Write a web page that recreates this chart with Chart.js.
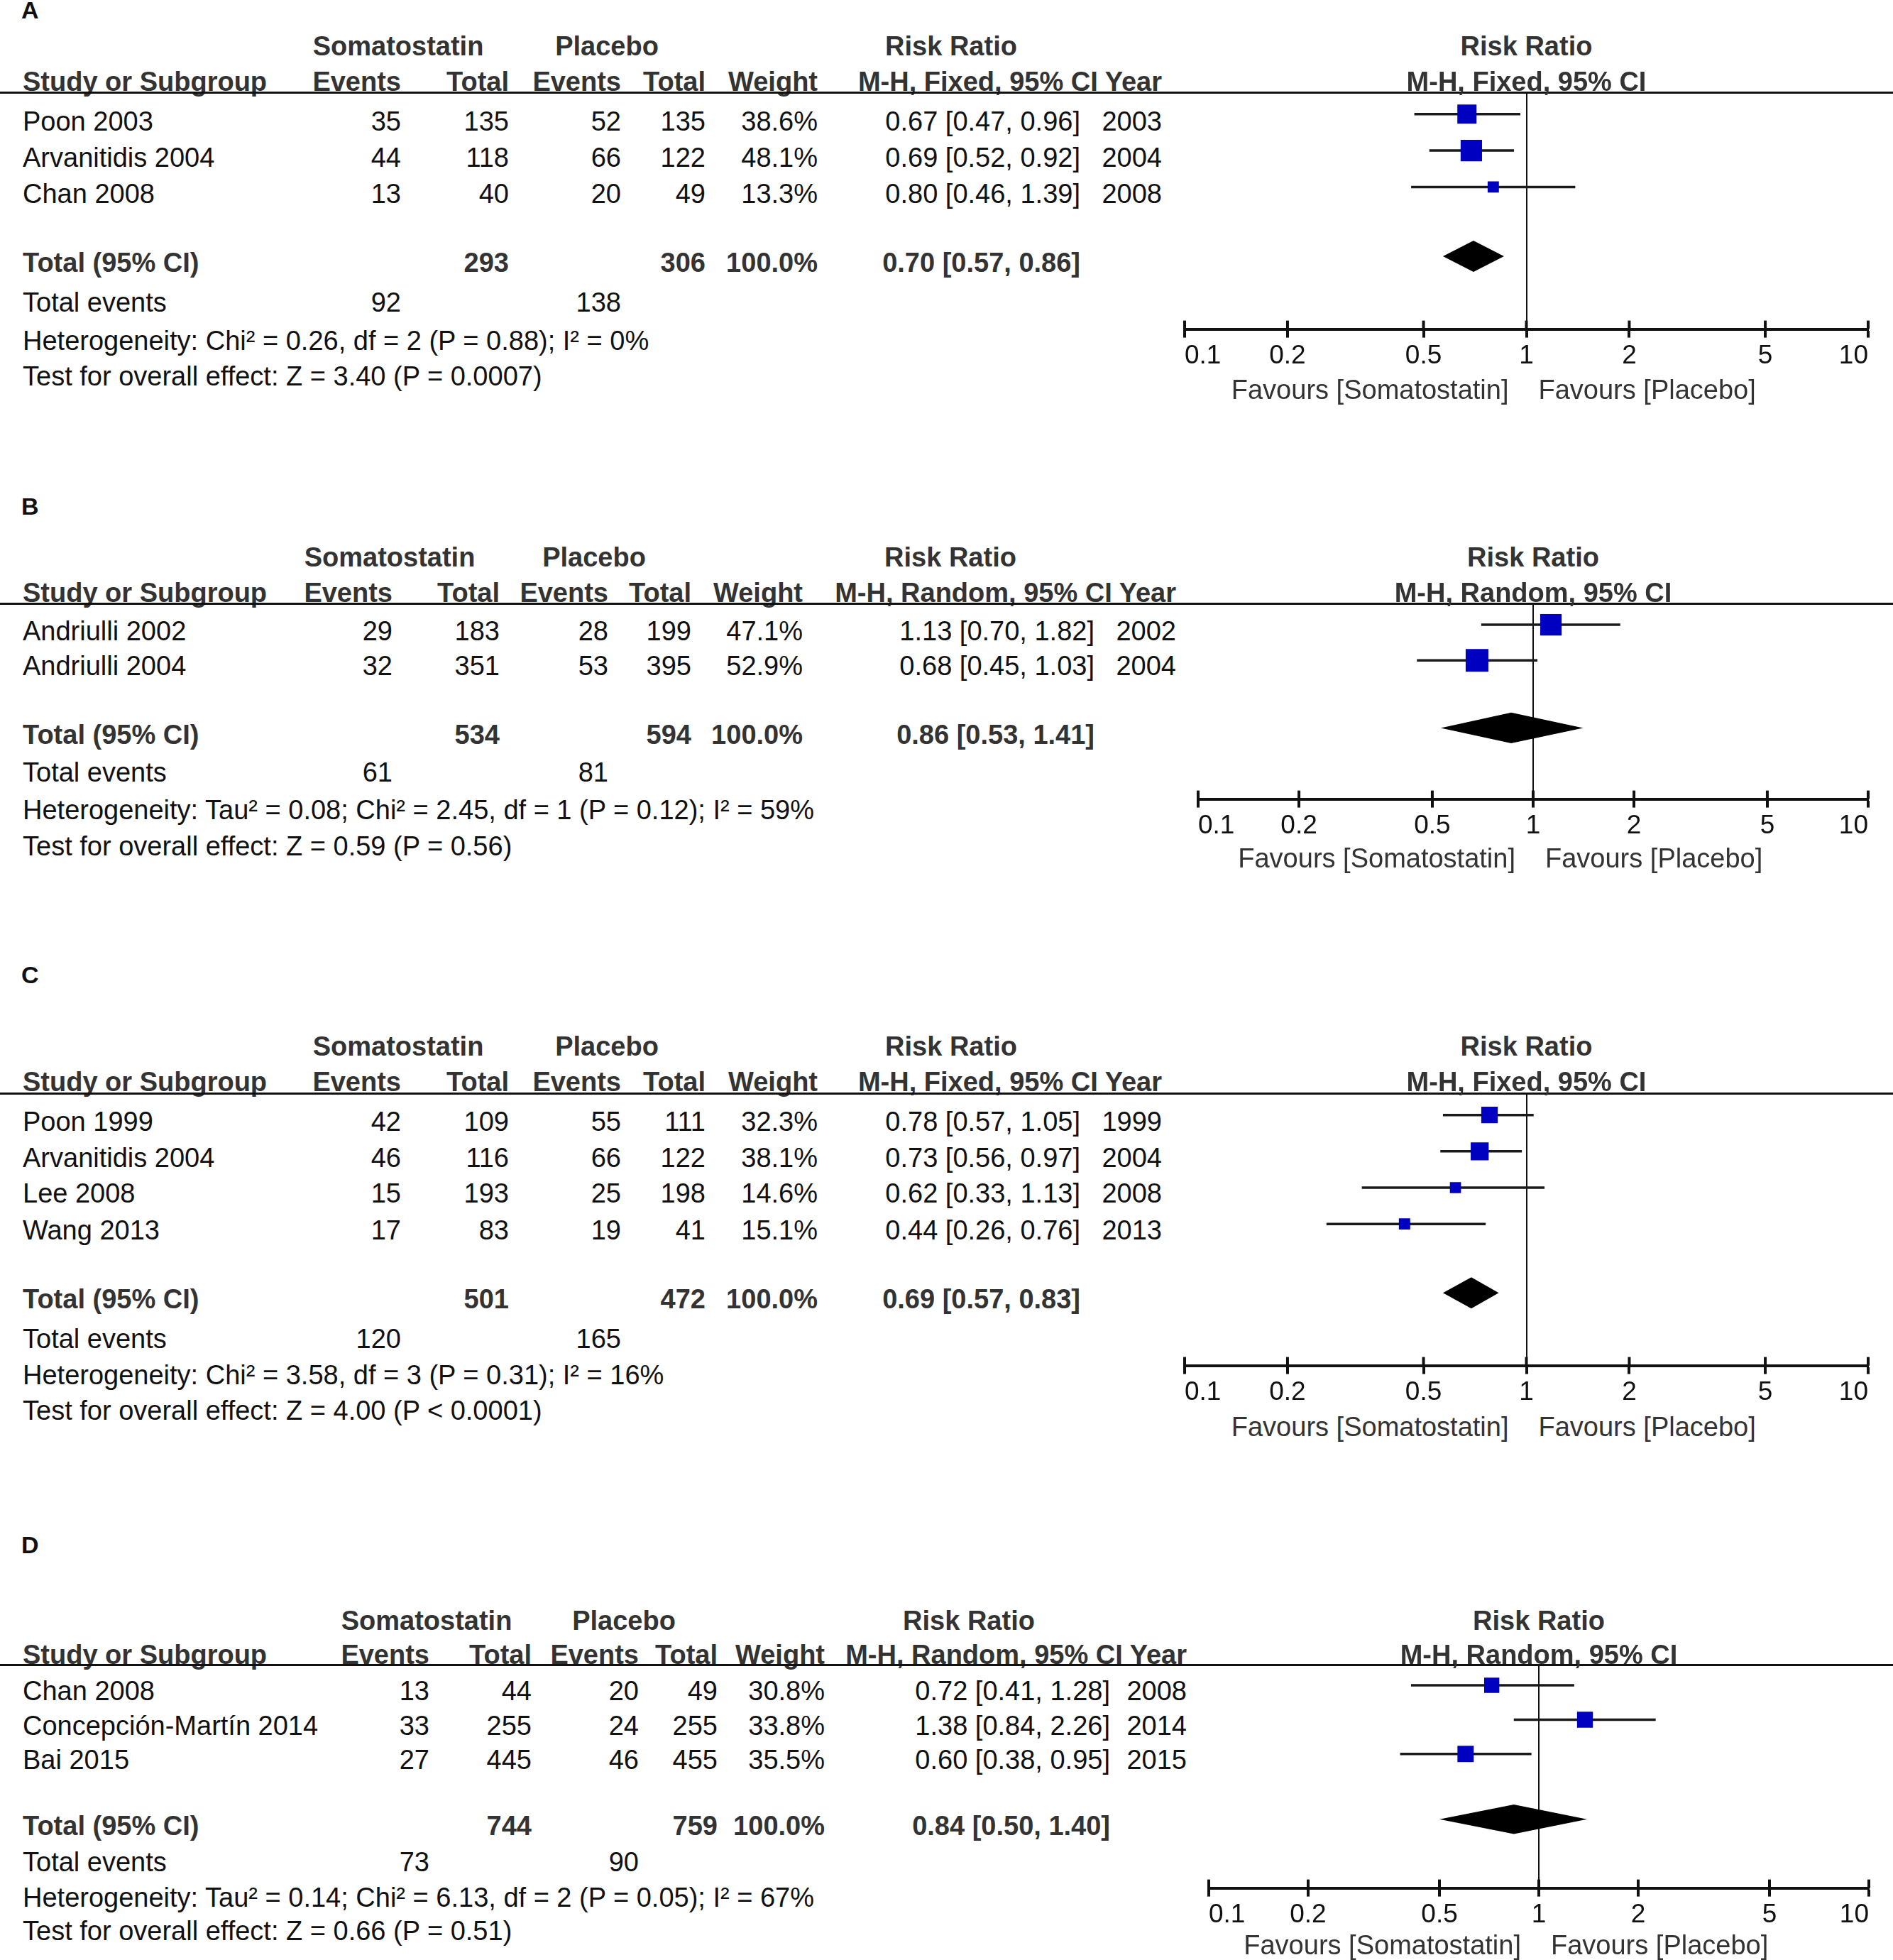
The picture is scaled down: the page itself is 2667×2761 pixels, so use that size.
<!DOCTYPE html>
<html>
<head>
<meta charset="utf-8">
<script src="https://cdn.jsdelivr.net/npm/chart.js@4.4.0/dist/chart.umd.min.js"></script>
<style>
  html, body { margin: 0; padding: 0; background: #fff; }
  #page { position: relative; width: 2667px; height: 2761px; overflow: hidden;
          font-family: "Liberation Sans", Arial, Helvetica, sans-serif; }
  .t { position: absolute; white-space: nowrap; font-size: 38px; line-height: 44px; height: 44px; color: #111; }
  .b { font-weight: bold; color: #333; }
  .rule { position: absolute; left: 0; width: 2667px; height: 3px; background: #111; }
  canvas { position: absolute; }
</style>
</head>
<body>
<div id="page"></div>
<script>
// ---- data ----
const studiesA = ["Poon 2003", "Arvanitidis 2004", "Chan 2008"];
const somaEventsA = [35, 44, 13];
const somaTotalA = [135, 118, 40];
const placEventsA = [52, 66, 20];
const placTotalA = [135, 122, 49];
const weightA = [38.6, 48.1, 13.3];
const rrA = [0.67, 0.69, 0.80];
const loA = [0.47, 0.52, 0.46];
const hiA = [0.96, 0.92, 1.39];
const yearA = [2003, 2004, 2008];
const pooledA = [0.70, 0.57, 0.86];
const totalsA = [293, 306];
const totalEventsA = [92, 138];
const hetA = "Heterogeneity: Chi² = 0.26, df = 2 (P = 0.88); I² = 0%";
const testA = "Test for overall effect: Z = 3.40 (P = 0.0007)";

const studiesB = ["Andriulli 2002", "Andriulli 2004"];
const somaEventsB = [29, 32];
const somaTotalB = [183, 351];
const placEventsB = [28, 53];
const placTotalB = [199, 395];
const weightB = [47.1, 52.9];
const rrB = [1.13, 0.68];
const loB = [0.70, 0.45];
const hiB = [1.82, 1.03];
const yearB = [2002, 2004];
const pooledB = [0.86, 0.53, 1.41];
const totalsB = [534, 594];
const totalEventsB = [61, 81];
const hetB = "Heterogeneity: Tau² = 0.08; Chi² = 2.45, df = 1 (P = 0.12); I² = 59%";
const testB = "Test for overall effect: Z = 0.59 (P = 0.56)";

const studiesC = ["Poon 1999", "Arvanitidis 2004", "Lee 2008", "Wang 2013"];
const somaEventsC = [42, 46, 15, 17];
const somaTotalC = [109, 116, 193, 83];
const placEventsC = [55, 66, 25, 19];
const placTotalC = [111, 122, 198, 41];
const weightC = [32.3, 38.1, 14.6, 15.1];
const rrC = [0.78, 0.73, 0.62, 0.44];
const loC = [0.57, 0.56, 0.33, 0.26];
const hiC = [1.05, 0.97, 1.13, 0.76];
const yearC = [1999, 2004, 2008, 2013];
const pooledC = [0.69, 0.57, 0.83];
const totalsC = [501, 472];
const totalEventsC = [120, 165];
const hetC = "Heterogeneity: Chi² = 3.58, df = 3 (P = 0.31); I² = 16%";
const testC = "Test for overall effect: Z = 4.00 (P < 0.0001)";

const studiesD = ["Chan 2008", "Concepción-Martín 2014", "Bai 2015"];
const somaEventsD = [13, 33, 27];
const somaTotalD = [44, 255, 445];
const placEventsD = [20, 24, 46];
const placTotalD = [49, 255, 455];
const weightD = [30.8, 33.8, 35.5];
const rrD = [0.72, 1.38, 0.60];
const loD = [0.41, 0.84, 0.38];
const hiD = [1.28, 2.26, 0.95];
const yearD = [2008, 2014, 2015];
const pooledD = [0.84, 0.50, 1.40];
const totalsD = [744, 759];
const totalEventsD = [73, 90];
const hetD = "Heterogeneity: Tau² = 0.14; Chi² = 6.13, df = 2 (P = 0.05); I² = 67%";
const testD = "Test for overall effect: Z = 0.66 (P = 0.51)";

const tickValues = [0.1, 0.2, 0.5, 1, 2, 5, 10];
const tickLabels = ["0.1", "0.2", "0.5", "1", "2", "5", "10"];

const panels = [
  { letter: "A", method: "Fixed", studies: studiesA, se: somaEventsA, st: somaTotalA, pe: placEventsA, pt: placTotalA,
    w: weightA, rr: rrA, lo: loA, hi: hiA, year: yearA, pooled: pooledA, totals: totalsA, tev: totalEventsA, het: hetA, test: testA },
  { letter: "B", method: "Random", studies: studiesB, se: somaEventsB, st: somaTotalB, pe: placEventsB, pt: placTotalB,
    w: weightB, rr: rrB, lo: loB, hi: hiB, year: yearB, pooled: pooledB, totals: totalsB, tev: totalEventsB, het: hetB, test: testB },
  { letter: "C", method: "Fixed", studies: studiesC, se: somaEventsC, st: somaTotalC, pe: placEventsC, pt: placTotalC,
    w: weightC, rr: rrC, lo: loC, hi: hiC, year: yearC, pooled: pooledC, totals: totalsC, tev: totalEventsC, het: hetC, test: testC },
  { letter: "D", method: "Random", studies: studiesD, se: somaEventsD, st: somaTotalD, pe: placEventsD, pt: placTotalD,
    w: weightD, rr: rrD, lo: loD, hi: hiD, year: yearD, pooled: pooledD, totals: totalsD, tev: totalEventsD, het: hetD, test: testD }
];

// ---- layout (pixels) ----
const colsAC = { study: 32, ev1: 565, tot1: 717, ev2: 875, tot2: 994, wt: 1152, ci: 1522, yr: 1637, soma: 561, plac: 855, rrh: 1340 };
const layouts = [
  { letterY: 14, h1Y: 65, h2Y: 115, lineY: 130, axisY: 463, rowY: [171, 222, 273], totY: 370, evY: 426, hetY: 480, testY: 530,
    favY: 549, x01: 1669, x10: 2632, sq: 4.35, col: colsAC },
  { letterY: 713, h1Y: 785, h2Y: 835, lineY: 850, axisY: 1125, rowY: [889, 938], totY: 1035, evY: 1088, hetY: 1141, testY: 1192,
    favY: 1209, x01: 1688, x10: 2632, sq: 4.4,
    col: { study: 32, ev1: 553, tot1: 704, ev2: 857, tot2: 974, wt: 1131, ci: 1542, yr: 1657, soma: 549, plac: 837, rrh: 1339 } },
  { letterY: 1373, h1Y: 1474, h2Y: 1524, lineY: 1540, axisY: 1923, rowY: [1580, 1631, 1681, 1733], totY: 1830, evY: 1886, hetY: 1937, testY: 1987,
    favY: 2010, x01: 1669, x10: 2632, sq: 4.1, col: colsAC },
  { letterY: 2176, h1Y: 2283, h2Y: 2331, lineY: 2345, axisY: 2659, rowY: [2382, 2431, 2479], totY: 2572, evY: 2623, hetY: 2673, testY: 2720,
    favY: 2740, x01: 1703, x10: 2633, sq: 3.85,
    col: { study: 32, ev1: 605, tot1: 749, ev2: 900, tot2: 1011, wt: 1162, ci: 1564, yr: 1672, soma: 601, plac: 879, rrh: 1365 } }
];

const page = document.getElementById("page");
const FONT = '"Liberation Sans", Arial, Helvetica, sans-serif';

function addText(str, x, y, align, bold, size, color) {
  const el = document.createElement("div");
  el.className = "t" + (bold ? " b" : "");
  el.textContent = str;
  el.style.top = (y - 22) + "px";
  el.style.left = x + "px";
  if (size) el.style.fontSize = size + "px";
  if (color) el.style.color = color;
  if (align === "right") el.style.transform = "translateX(-100%)";
  if (align === "center") el.style.transform = "translateX(-50%)";
  page.appendChild(el);
}

function ci(r, l, h) {
  return r.toFixed(2) + " [" + l.toFixed(2) + ", " + h.toFixed(2) + "]";
}

// diamond for the pooled estimate + tick marks above the axis line
const forestExtras = {
  id: "forestExtras",
  afterDatasetsDraw(chart, args, opts) {
    const { ctx, chartArea, scales: { x, y } } = chart;
    const [est, lo, hi] = opts.pooled;
    const yc = y.getPixelForValue(opts.row);
    const h = y.getPixelForValue(opts.row + 0.43) - yc;
    ctx.save();
    ctx.fillStyle = "#000";
    ctx.beginPath();
    ctx.moveTo(x.getPixelForValue(lo), yc);
    ctx.lineTo(x.getPixelForValue(est), yc - h);
    ctx.lineTo(x.getPixelForValue(hi), yc);
    ctx.lineTo(x.getPixelForValue(est), yc + h);
    ctx.closePath();
    ctx.fill();
    ctx.strokeStyle = "#111";
    ctx.lineWidth = 4;
    x.ticks.forEach(tk => {
      const px = x.getPixelForValue(tk.value);
      ctx.beginPath();
      ctx.moveTo(px, chartArea.bottom - 12);
      ctx.lineTo(px, chartArea.bottom);
      ctx.stroke();
    });
    ctx.restore();
  }
};

function drawPanel(p, L) {
  const c = L.col;
  const n = p.studies.length;

  // table
  addText(p.letter, 30, L.letterY, "left", true, 34, "#111");
  addText("Somatostatin", c.soma, L.h1Y, "center", true);
  addText("Placebo", c.plac, L.h1Y, "center", true);
  addText("Risk Ratio", c.rrh, L.h1Y, "center", true);
  addText("Study or Subgroup", c.study, L.h2Y, "left", true);
  addText("Events", c.ev1, L.h2Y, "right", true);
  addText("Total", c.tot1, L.h2Y, "right", true);
  addText("Events", c.ev2, L.h2Y, "right", true);
  addText("Total", c.tot2, L.h2Y, "right", true);
  addText("Weight", c.wt, L.h2Y, "right", true);
  addText("M-H, " + p.method + ", 95% CI Year", c.yr, L.h2Y, "right", true);

  const rule = document.createElement("div");
  rule.className = "rule";
  rule.style.top = (L.lineY - 1.5) + "px";
  page.appendChild(rule);

  p.studies.forEach((s, i) => {
    const y = L.rowY[i];
    addText(s, c.study, y, "left");
    addText(String(p.se[i]), c.ev1, y, "right");
    addText(String(p.st[i]), c.tot1, y, "right");
    addText(String(p.pe[i]), c.ev2, y, "right");
    addText(String(p.pt[i]), c.tot2, y, "right");
    addText(p.w[i].toFixed(1) + "%", c.wt, y, "right");
    addText(ci(p.rr[i], p.lo[i], p.hi[i]), c.ci, y, "right");
    addText(String(p.year[i]), c.yr, y, "right");
  });

  addText("Total (95% CI)", c.study, L.totY, "left", true);
  addText(String(p.totals[0]), c.tot1, L.totY, "right", true);
  addText(String(p.totals[1]), c.tot2, L.totY, "right", true);
  addText("100.0%", c.wt, L.totY, "right", true);
  addText(ci(p.pooled[0], p.pooled[1], p.pooled[2]), c.ci, L.totY, "right", true);
  addText("Total events", c.study, L.evY, "left");
  addText(String(p.tev[0]), c.ev1, L.evY, "right");
  addText(String(p.tev[1]), c.ev2, L.evY, "right");
  addText(p.het, c.study, L.hetY, "left");
  addText(p.test, c.study, L.testY, "left");

  // forest plot
  const left = 1600, width = 1067;
  const height = (L.axisY - L.lineY) + 65;
  const cv = document.createElement("canvas");
  cv.width = width;
  cv.height = height;
  cv.style.left = left + "px";
  cv.style.top = L.lineY + "px";
  cv.style.width = width + "px";
  cv.style.height = height + "px";
  page.appendChild(cv);

  const squares = {
    data: p.rr.map((r, i) => ({ x: r, y: i })),
    pointStyle: "rect",
    pointRadius: p.w.map(w => L.sq * Math.sqrt(w) / (2 * Math.SQRT1_2)),
    backgroundColor: "#0000c0",
    borderColor: "#0000c0",
    borderWidth: 0,
    order: 0
  };
  const ciLines = p.studies.map((s, i) => ({
    data: [{ x: p.lo[i], y: i }, { x: p.hi[i], y: i }],
    showLine: true,
    borderColor: "#1a1a1a",
    borderWidth: 3.5,
    pointRadius: 0,
    order: 1
  }));

  const chart = new Chart(cv, {
    type: "scatter",
    data: { datasets: [squares, ...ciLines] },
    options: {
      responsive: false,
      animation: false,
      devicePixelRatio: 1,
      layout: { autoPadding: false, padding: { left: L.x01 - left, right: left + width - L.x10, top: 0, bottom: 0 } },
      plugins: {
        legend: { display: false },
        tooltip: { enabled: false },
        forestExtras: { pooled: p.pooled, row: n + 0.9 }
      },
      scales: {
        x: {
          type: "logarithmic",
          min: 0.1,
          max: 10,
          afterBuildTicks: s => { s.ticks = tickValues.map(v => ({ value: v })); },
          ticks: {
            autoSkip: false, maxRotation: 0, align: "inner", padding: 4, color: "#111",
            font: { family: FONT, size: 37 },
            callback: (v, i) => tickLabels[i]
          },
          grid: {
            drawOnChartArea: true,
            color: ctx => (ctx.tick && ctx.tick.value === 1 ? "#111" : "rgba(0,0,0,0)"),
            lineWidth: 2,
            tickColor: "#111",
            tickWidth: 4,
            tickLength: 12
          },
          border: { display: true, color: "#111", width: 4 }
        },
        y: { type: "linear", display: false, reverse: true, min: -0.6, max: n + 2.9 }
      }
    },
    plugins: [forestExtras]
  });

  // headers and favours labels, placed at RR = 1 on the scale
  const x1 = left + chart.scales.x.getPixelForValue(1);
  addText("Risk Ratio", x1, L.h1Y, "center", true);
  addText("M-H, " + p.method + ", 95% CI", x1, L.h2Y, "center", true);
  addText("Favours [Somatostatin]", x1 - 25, L.favY, "right", false, 38, "#333");
  addText("Favours [Placebo]", x1 + 17, L.favY, "left", false, 38, "#333");
}

panels.forEach((p, i) => drawPanel(p, layouts[i]));
</script>
</body>
</html>
